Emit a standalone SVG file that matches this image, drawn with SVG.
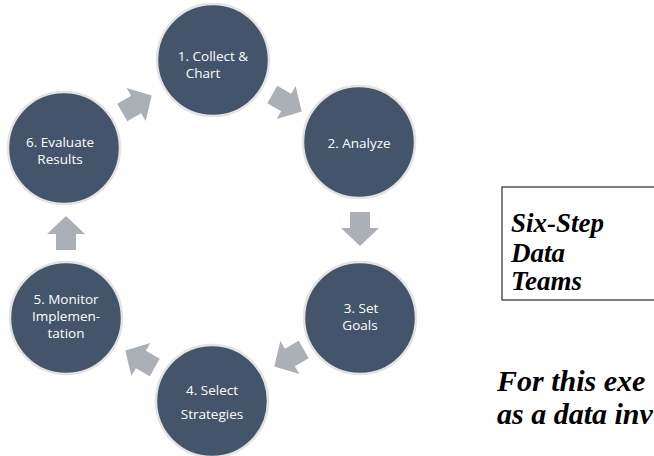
<svg xmlns="http://www.w3.org/2000/svg" width="654" height="456" viewBox="0 0 654 456">
<style>
.node{fill:#44546A;stroke:#E3E3E3;stroke-width:2.5}
.lbl{fill:#FFFFFF;font-family:"Open Sans","DejaVu Sans",sans-serif;font-size:13.5px;text-anchor:middle}
.arr{fill:#ABAFB6}
.big{font-family:"Liberation Serif","Times New Roman",serif;font-weight:bold;font-style:italic;fill:#000}
.box{font-size:27px}
.note{font-size:30px}
</style>
<defs>
<path id="ar" d="M-17,-10 L-1,-10 L-1,-19 L17,0 L-1,19 L-1,10 L-17,10 Z"/>
</defs>
<rect width="654" height="456" fill="#FFFFFF"/>
<g id="connectors">
<use href="#ar" class="arr" transform="translate(287,103) rotate(30)"/>
<use href="#ar" class="arr" transform="translate(360,229) rotate(90)"/>
<use href="#ar" class="arr" transform="translate(289,358) rotate(150)"/>
<use href="#ar" class="arr" transform="translate(140,359) rotate(210)"/>
<use href="#ar" class="arr" transform="translate(66,233) rotate(270)"/>
<use href="#ar" class="arr" transform="translate(137,104) rotate(330)"/>
</g>
<g id="node1"><circle class="node" cx="213" cy="60" r="56"/>
<text class="lbl"><tspan x="213" y="61">1. Collect &amp;</tspan><tspan x="203" y="78">Chart</tspan></text></g>
<g id="node2"><circle class="node" cx="359" cy="142" r="56"/>
<text class="lbl" x="359" y="148">2. Analyze</text></g>
<g id="node3"><circle class="node" cx="360" cy="318" r="56"/>
<text class="lbl"><tspan x="361" y="313">3. Set</tspan><tspan x="360" y="330">Goals</tspan></text></g>
<g id="node4"><circle class="node" cx="212" cy="401" r="56"/>
<text class="lbl"><tspan x="212" y="395">4. Select</tspan><tspan x="212" y="419">Strategies</tspan></text></g>
<g id="node5"><circle class="node" cx="66" cy="318" r="56"/>
<text class="lbl"><tspan x="66" y="304">5. Monitor</tspan><tspan x="66" y="321">Implemen-</tspan><tspan x="66" y="338">tation</tspan></text></g>
<g id="node6"><circle class="node" cx="64" cy="148" r="56"/>
<text class="lbl"><tspan x="60" y="147">6. Evaluate</tspan><tspan x="60" y="164">Results</tspan></text></g>
<g id="titlebox">
<rect x="502" y="187" width="170" height="113" fill="none" stroke="#000" stroke-width="1"/>
<text class="big box"><tspan x="511" y="232">Six-Step</tspan><tspan x="511" y="262">Data</tspan><tspan x="511" y="290">Teams</tspan></text>
</g>
<text class="big note"><tspan x="497" y="391">For this exe</tspan><tspan x="497" y="424">as a data inv</tspan></text>
</svg>
